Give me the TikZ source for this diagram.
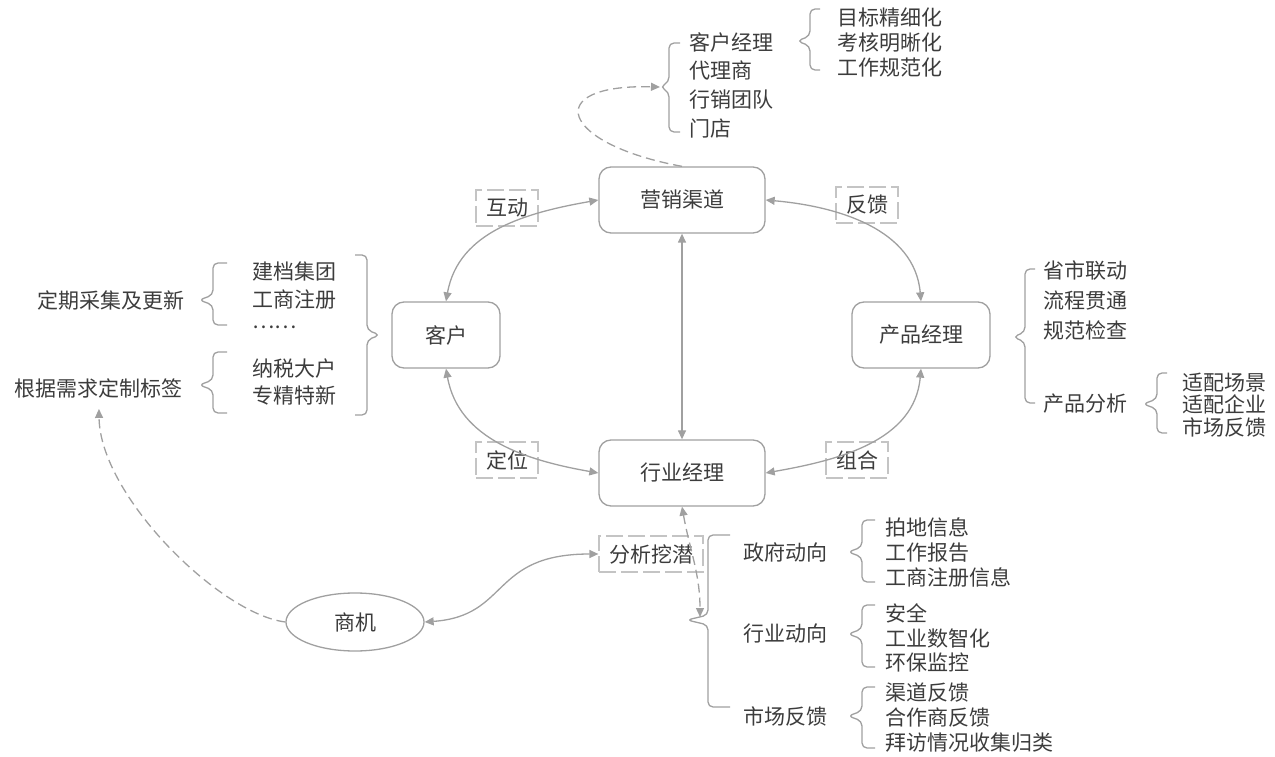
\documentclass[tikz,border=0pt]{standalone}
\usepackage{fontspec}
\newfontfamily\cjk{Noto Sans CJK SC}
\usetikzlibrary{arrows.meta,shapes.geometric}
\definecolor{linegray}{HTML}{A0A0A0}
\definecolor{taggray}{HTML}{C4C4C4}
\definecolor{textgray}{HTML}{3C3C3C}
% curly side bracket: stem x, top, bottom, tip y, hook length, tip length
\newcommand{\sidebrace}[6]{%
  \draw[brace] ({#1+(#5)},#2) -- (#1,#2) -- (#1,{#4+5}) -- ({#1+(#6)},#4)
    -- (#1,{#4-5}) -- (#1,#3) -- ({#1+(#5)},#3);}
\tikzset{
  box/.style={draw=linegray, line width=1.3pt, rounded corners=12pt,
    minimum height=66pt, text=textgray, font=\cjk\fontsize{21}{25}\selectfont},
  tag/.style={draw=taggray, line width=1.2pt, dash pattern=on 17pt off 5pt,
    minimum height=36pt, inner xsep=10pt, text=textgray,
    font=\cjk\fontsize{21}{25}\selectfont},
  link/.style={draw=linegray, line width=1.3pt, <->},
  dlink/.style={draw=linegray, line width=1.3pt, dash pattern=on 9pt off 5pt},
  list/.style={anchor=west, align=left, inner sep=0pt, text=textgray,
    font=\cjk\fontsize{21}{#1}\selectfont},
  list/.default=25,
  brace/.style={draw=linegray, line width=1.3pt, rounded corners=5pt},
}
\begin{document}
\begin{tikzpicture}[x=1pt, y=1pt, >={Triangle[length=9pt,width=8pt]}]
\useasboundingbox (0,0) rectangle (1275,756);
% main boxes
\node[box, minimum width=166pt] (yxqd) at (682,556) {营销渠道};
\node[box, minimum width=108pt] (kehu) at (446,421) {客户};
\node[box, minimum width=138pt] (cpjl) at (921,421) {产品经理};
\node[box, minimum width=166pt] (hyjl) at (682,283) {行业经理};
\node[box, ellipse, rounded corners=0pt, minimum width=138pt, minimum height=58pt] (shangji) at (355,134) {商机};
% tags on the links
\node[tag] (hudong) at (507,548) {互动};
\node[tag] (fankui) at (867,551) {反馈};
\node[tag] (dingwei) at (507,296) {定位};
\node[tag] (zuhe) at (857,296) {组合};
\node[tag] (fenxi) at (651,202) {分析挖潜};
% text lists
\node[list=28.7] (khjl) at (689,671) {客户经理\\代理商\\行销团队\\门店};
\node[list] (mbjx) at (837,714) {目标精细化\\考核明晰化\\工作规范化};
\node[list=28, anchor=north west] (jdjt) at (252,494.5) {建档集团\\工商注册\\[-7pt]……};
\node[list=27] (nsdh) at (252,374.5) {纳税大户\\专精特新};
\node[list, anchor=east] (dqcj) at (185,456) {定期采集及更新};
\node[list, anchor=east] (gjxq) at (183,368) {根据需求定制标签};
\node[list=30] (ssld) at (1043,456) {省市联动\\流程贯通\\规范检查};
\node[list] (cpfx) at (1043,352) {产品分析};
\node[list=22.5] (sppz) at (1182,351) {适配场景\\适配企业\\市场反馈};
\node[list] (zfdx) at (743,204) {政府动向};
\node[list] (hydx) at (743,122) {行业动向};
\node[list] (scfk) at (743,40) {市场反馈};
\node[list] (pdxx) at (885,204) {拍地信息\\工作报告\\工商注册信息};
\node[list=24.5] (aqqx) at (885,118) {安全\\工业数智化\\环保监控};
\node[list] (qdfk) at (885,38) {渠道反馈\\合作商反馈\\拜访情况收集归类};
% brackets
\sidebrace{669}{713}{624}{669}{11}{-9}
\sidebrace{810}{747}{686}{715}{10}{-13}
\sidebrace{213}{493}{431}{456}{14}{-14}
\sidebrace{213}{404}{343}{371}{14}{-14}
\sidebrace{367}{501}{341}{421}{-12}{13}
\sidebrace{1025}{487}{353}{419}{10}{-12}
\sidebrace{1157}{383}{323}{352}{10}{-14}
\sidebrace{708}{221}{49}{136}{22}{-21}
\sidebrace{862}{236}{174}{204}{13}{-14}
\sidebrace{862}{151}{89}{122}{13}{-14}
\sidebrace{862}{69}{8}{40}{13}{-14}
\coordinate (kh tip) at (660,669);
\coordinate (hy tip) at (700,139);
% links
\draw[link] (kehu.north) to[out=80,in=190] (yxqd.west);
\draw[link] (yxqd.east) to[out=-5,in=95] (cpjl.north);
\draw[link] (kehu.south) to[out=-80,in=170] (hyjl.west);
\draw[link] (hyjl.east) to[out=10,in=-95] (cpjl.south);
\draw[link] (yxqd.south) -- (hyjl.north);
\draw[link] (shangji.east) .. controls (510,140) and (490,202) .. (fenxi.west);
\draw[dlink, ->] (yxqd.north) .. controls (560,612) and (540,672) .. (kh tip);
\draw[dlink, <->] (hyjl.south) to[out=-80,in=90] (hy tip);
\draw[dlink, ->, shorten >=11pt] (shangji.west) .. controls (220,142) and (100,260) .. (gjxq.south);
\end{tikzpicture}
\end{document}
